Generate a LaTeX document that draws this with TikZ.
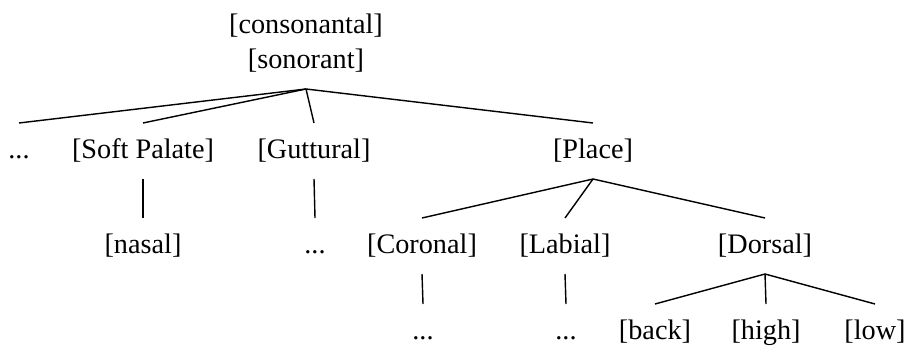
\documentclass[tikz,border=0pt]{standalone}
\usepackage{fontspec}
\setmainfont{Liberation Serif}
\usepackage{tikz}

\begin{document}
\begin{tikzpicture}[
  x=0.425pt, y=-0.425pt,
  feat/.style={font=\fontsize{12}{14}\selectfont, inner sep=0pt, outer sep=0pt, minimum height=23.8pt, text height=8.5pt, text depth=2.5pt},
  branch/.style={line width=0.6pt}
]
\useasboundingbox (0,0) rectangle (906,352);
% Root
\node[feat] (cons) at (306, 26) {[consonantal]};
\node[feat] (root) at (306, 61) {[sonorant]};

% First row
\node[feat] (dotsa) at (19, 151) {...};
\node[feat] (soft) at (143, 151) {[Soft Palate]};
\node[feat] (gutt) at (314, 151) {[Guttural]};
\node[feat] (place) at (593, 151) {[Place]};

% Second row
\node[feat] (nasal) at (143, 246) {[nasal]};
\node[feat] (dotsb) at (315, 246) {...};
\node[feat] (cor) at (422, 246) {[Coronal]};
\node[feat] (lab) at (565, 246) {[Labial]};
\node[feat] (dor) at (765, 246) {[Dorsal]};

% Third row
\node[feat] (dotsc) at (423, 332) {...};
\node[feat] (dotsd) at (566, 332) {...};
\node[feat] (back) at (655, 332) {[back]};
\node[feat] (high) at (766, 332) {[high]};
\node[feat] (low) at (875, 332) {[low]};

% Branches
\foreach \c in {dotsa, soft, gutt, place} {
  \draw[branch] (root.south) -- (\c.north);
}
\draw[branch] (soft.south) -- (nasal.north);
\draw[branch] (gutt.south) -- (dotsb.north);
\foreach \c in {cor, lab, dor} {
  \draw[branch] (place.south) -- (\c.north);
}
\draw[branch] (cor.south) -- (dotsc.north);
\draw[branch] (lab.south) -- (dotsd.north);
\foreach \c in {back, high, low} {
  \draw[branch] (dor.south) -- (\c.north);
}

\end{tikzpicture}
\end{document}
